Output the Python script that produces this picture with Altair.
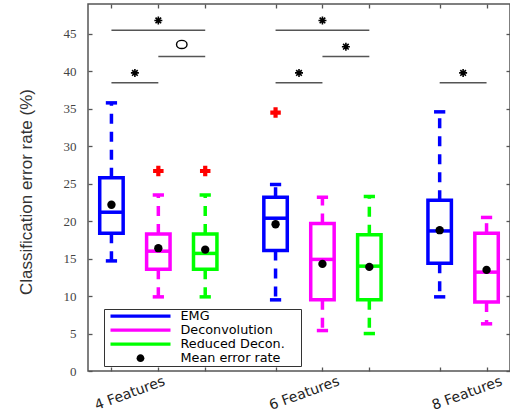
import altair as alt
import pandas as pd

# ---- data ----
positions = [1, 2, 3, 4.5, 5.5, 6.5, 8, 9]
series = ["EMG", "Deconvolution", "Reduced Decon.", "EMG", "Deconvolution",
          "Reduced Decon.", "EMG", "Deconvolution"]
lower_whisker = [14.7, 9.9, 9.9, 9.5, 5.4, 5.0, 9.9, 6.3]
q1 = [18.4, 13.6, 13.6, 16.1, 9.5, 9.5, 14.4, 9.2]
median = [21.2, 16.0, 15.7, 20.4, 14.9, 14.0, 18.7, 13.2]
q3 = [25.8, 18.3, 18.3, 23.2, 19.7, 18.2, 22.8, 18.4]
upper_whisker = [35.8, 23.5, 23.5, 24.9, 23.2, 23.3, 34.6, 20.5]
mean_error = [22.2, 16.4, 16.2, 19.6, 14.3, 13.9, 18.8, 13.5]

series_colors = {"EMG": "#0000ff", "Deconvolution": "#ff00ff", "Reduced Decon.": "#00ff00"}

outlier_x = [2, 3, 4.5]
outlier_y = [26.7, 26.7, 34.5]

sig_from = [1, 2, 1, 4.5, 5.5, 4.5, 8]
sig_to = [3, 3, 2, 6.5, 6.5, 5.5, 9]
sig_level = [45.5, 42.0, 38.5, 45.5, 42.0, 38.5, 38.5]
sig_marker = ["*", "O", "*", "*", "*", "*", "*"]

group_labels = ["4 Features", "6 Features", "8 Features"]
group_label_x = [2.07, 5.79, 9.26]

legend_entries = ["EMG", "Deconvolution", "Reduced Decon.", "Mean error rate"]
legend_colors = ["#0000ff", "#ff00ff", "#00ff00", "#000000"]

y_ticks = [0, 5, 10, 15, 20, 25, 30, 35, 40, 45]

# ---- tables ----
boxes = pd.DataFrame({
    "x": positions, "series": series,
    "color": [series_colors[s] for s in series],
    "lo": lower_whisker, "q1": q1, "med": median, "q3": q3,
    "hi": upper_whisker, "mean": mean_error,
})
outliers = pd.DataFrame({"x": outlier_x, "y": outlier_y})
sig = pd.DataFrame({"x1": sig_from, "x2": sig_to, "level": sig_level, "marker": sig_marker})
legend_df = pd.DataFrame({"entry": legend_entries, "lx": [None] * 4, "ly": [None] * 4})

xs = alt.Scale(domain=[0.5, 9.5], nice=False, zero=False)
ys = alt.Scale(domain=[0, 49], nice=False, zero=False)

TICK = dict(domain=False, tickSize=4, tickColor="#555555", tickWidth=1.3, grid=False, title=None)

left_axis = alt.Axis(orient="left", values=y_ticks, offset=-4,
                     labelFont="Liberation Serif, Times New Roman, serif",
                     labelFontSize=13, labelColor="#444444", labelPadding=12,
                     title="Classification error rate (%)", titleFont="Liberation Sans",
                     titleFontSize=17, titleFontWeight="normal", titleColor="#333333",
                     titleX=-66, titleY=187.5, titleAngle=270, titleBaseline="middle",
                     titleAlign="center", domain=False, tickSize=4, tickColor="#555555",
                     tickWidth=1.3, grid=False)
right_axis = alt.Axis(orient="right", values=y_ticks, offset=-4, labels=False, **TICK)
bottom_ticks = alt.Axis(orient="bottom", values=positions, offset=-4, labels=False, **TICK)
top_ticks = alt.Axis(orient="top", values=positions, offset=-4, labels=False, **TICK)

label_expr = ""
for v, lab in zip(group_label_x, group_labels):
    label_expr += f"abs(datum.value - {v}) < 0.01 ? '{lab}' : "
label_expr += "''"
label_axis = alt.Axis(orient="bottom", values=group_label_x, ticks=False, tickSize=0,
                      domain=False, grid=False, title=None, labelExpr=label_expr,
                      labelAngle=340, labelAlign="right", labelBaseline="top",
                      labelPadding=3, labelFont="DejaVu Sans", labelFontSize=14,
                      labelColor="#222222", labelOverlap=False, labelBound=False,
                      labelFlush=False)

col = alt.Color("color:N", scale=None)
base = alt.Chart(boxes)
LW = 3.5

whisk_up = base.mark_rule(strokeWidth=LW, strokeDash=[10, 8]).encode(
    x=alt.X("x:Q", scale=xs, axis=None), y=alt.Y("q3:Q", scale=ys, axis=None), y2="hi:Q", color=col)
whisk_lo = base.mark_rule(strokeWidth=LW, strokeDash=[10, 8]).encode(
    x=alt.X("x:Q", scale=xs, axis=None), y=alt.Y("q1:Q", scale=ys, axis=None), y2="lo:Q", color=col)

cap_calc = dict(cl="datum.x - 0.12", cr="datum.x + 0.12")
cap_hi = base.transform_calculate(**cap_calc).mark_rule(strokeWidth=LW).encode(
    x=alt.X("cl:Q", scale=xs, axis=None), x2="cr:Q", y=alt.Y("hi:Q", scale=ys, axis=None), color=col)
cap_lo = base.transform_calculate(**cap_calc).mark_rule(strokeWidth=LW).encode(
    x=alt.X("cl:Q", scale=xs, axis=None), x2="cr:Q", y=alt.Y("lo:Q", scale=ys, axis=None), color=col)

box_calc = dict(xl="datum.x - 0.25", xr="datum.x + 0.25")
box = base.transform_calculate(**box_calc).mark_rect(filled=False, strokeWidth=LW).encode(
    x=alt.X("xl:Q", scale=xs, axis=bottom_ticks), x2="xr:Q",
    y=alt.Y("q1:Q", scale=ys, axis=left_axis), y2="q3:Q", color=col)
med = base.transform_calculate(**box_calc).mark_rule(strokeWidth=LW).encode(
    x=alt.X("xl:Q", scale=xs, axis=top_ticks), x2="xr:Q",
    y=alt.Y("med:Q", scale=ys, axis=right_axis), color=col)

means = base.mark_point(filled=True, size=70, color="black", opacity=1).encode(
    x=alt.X("x:Q", scale=xs, axis=label_axis), y=alt.Y("mean:Q", scale=ys, axis=None))

outl = alt.Chart(outliers).mark_point(shape="cross", filled=True, color="#ff0000", size=110, opacity=1).encode(
    x=alt.X("x:Q", scale=xs, axis=None), y=alt.Y("y:Q", scale=ys, axis=None))

sig_lines = alt.Chart(sig).mark_rule(color="#555555", strokeWidth=1.5).encode(
    x=alt.X("x1:Q", scale=xs, axis=None), x2="x2:Q", y=alt.Y("level:Q", scale=ys, axis=None))

asterisk = "M0,-1V1M-1,0H1M-0.7,-0.7L0.7,0.7M-0.7,0.7L0.7,-0.7"
stars = alt.Chart(sig).transform_filter("datum.marker == '*'").transform_calculate(
    xm="(datum.x1 + datum.x2) / 2", ym="datum.level + 1.3").mark_point(
    shape=asterisk, filled=False, color="black", strokeWidth=1.6, size=64, opacity=1).encode(
    x=alt.X("xm:Q", scale=xs, axis=None), y=alt.Y("ym:Q", scale=ys, axis=None))

ellipse = "M-1,0A1,0.78 0 1,0 1,0A1,0.78 0 1,0 -1,0Z"
circles = alt.Chart(sig).transform_filter("datum.marker == 'O'").transform_calculate(
    xm="(datum.x1 + datum.x2) / 2", ym="datum.level + 1.6").mark_point(
    shape=ellipse, filled=False, color="black", strokeWidth=1.4, size=110, opacity=1).encode(
    x=alt.X("xm:Q", scale=xs, axis=None), y=alt.Y("ym:Q", scale=ys, axis=None))

line_sym = "M-1,-0.055H1V0.055H-1Z"
dot_sym = "M-0.13,0A0.13,0.13 0 1,0 0.13,0A0.13,0.13 0 1,0 -0.13,0Z"
leg = alt.Legend(title="\u00a0", titleOrient="right", titleFontSize=13,
                 titlePadding=16, orient="none", legendX=16, legendY=305,
                 symbolSize=3600, clipHeight=13.4, symbolStrokeWidth=0, symbolOffset=6,
                 labelOffset=10, labelFont="DejaVu Sans", labelFontSize=12.8, labelColor="black",
                 padding=0.5, rowPadding=0, strokeColor="#333333", fillColor="white",
                 labelLimit=400)
legend_layer = alt.Chart(legend_df).mark_point(filled=True, opacity=1).encode(
    x=alt.X("lx:Q", scale=xs, axis=None), y=alt.Y("ly:Q", scale=ys, axis=None),
    color=alt.Color("entry:N", scale=alt.Scale(domain=legend_entries, range=legend_colors), legend=leg),
    shape=alt.Shape("entry:N", scale=alt.Scale(domain=legend_entries,
                    range=[line_sym, line_sym, line_sym, dot_sym]), legend=leg))

chart = alt.layer(
    whisk_up, whisk_lo, cap_hi, cap_lo, box, med, means, outl,
    sig_lines, stars, circles, legend_layer
).resolve_axis(x="independent", y="independent").properties(
    width=422, height=367,
    padding={"left": 88, "top": 4, "right": 0, "bottom": 49},
    autosize=alt.AutoSizeParams(type="none"),
    background="white",
).configure_view(stroke="#555555", strokeWidth=1.5)

chart.save("out.html", embed_options={"renderer": "svg", "actions": False})
